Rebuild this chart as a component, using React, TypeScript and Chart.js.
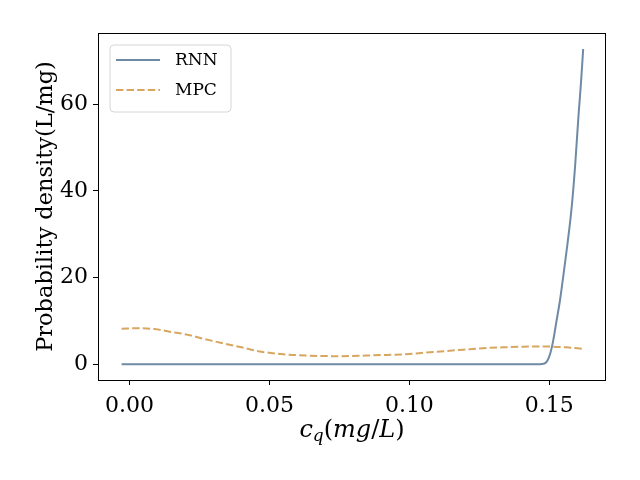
import { useEffect, useRef } from "react";
import { Chart, registerables } from "chart.js";

Chart.register(...registerables);

// Concentration grid (mg/L) and estimated densities (L/mg)
const rnnX = [-0.00282, 0.02, 0.05, 0.08, 0.11, 0.13, 0.14, 0.1455, 0.1468, 0.1478, 0.1485, 0.1493, 0.1503, 0.1514, 0.1526, 0.1538, 0.155, 0.1562, 0.158, 0.1592, 0.1604, 0.1613, 0.1621];
const rnnY = [0, 0, 0, 0, 0, 0, 0, 0, 0.02, 0.08, 0.25, 0.8, 2.4, 5.5, 10.1, 14.7, 20.4, 26.3, 36.3, 45.6, 57.1, 64.8, 72.7];

const mpcX = [-0.00282, 0.0031, 0.009, 0.0144, 0.0216, 0.0257, 0.0329, 0.04, 0.046, 0.0549, 0.0632, 0.0745, 0.0846, 0.0918, 0.0984, 0.1055, 0.1132, 0.1192, 0.1263, 0.1335, 0.1406, 0.1478, 0.1561, 0.1621];
const mpcY = [8.2, 8.3, 8.1, 7.5, 6.7, 6.0, 4.9, 3.9, 3.0, 2.3, 2.0, 1.85, 2.0, 2.15, 2.3, 2.65, 3.05, 3.35, 3.7, 3.9, 4.05, 4.1, 3.9, 3.55];

const xTicks = [0, 0.05, 0.1, 0.15];
const yTicks = [0, 20, 40, 60];

const seriesNames = ["RNN", "MPC"];
const rnnColor = "#6f8aa4";
const mpcColor = "#d9a660";

const SERIF = "'DejaVu Serif', serif";

const framePlugin = {
  id: "frameAndTitles",
  afterDraw(chart: any) {
    const { ctx, chartArea } = chart;
    const { left, right, top, bottom } = chartArea;
    ctx.save();

    // axes frame on all four sides
    ctx.strokeStyle = "#000";
    ctx.lineWidth = 1;
    ctx.strokeRect(Math.round(left) + 0.5, Math.round(top) + 0.5, Math.round(right - left) - 1, Math.round(bottom - top));

    // legend box
    const lx = 110, ly = 45, lw = 121, lh = 67, r = 4;
    ctx.beginPath();
    ctx.moveTo(lx + r, ly);
    ctx.arcTo(lx + lw, ly, lx + lw, ly + lh, r);
    ctx.arcTo(lx + lw, ly + lh, lx, ly + lh, r);
    ctx.arcTo(lx, ly + lh, lx, ly, r);
    ctx.arcTo(lx, ly, lx + lw, ly, r);
    ctx.closePath();
    ctx.fillStyle = "rgba(255,255,255,0.8)";
    ctx.fill();
    ctx.strokeStyle = "#d6d6d6";
    ctx.lineWidth = 1;
    ctx.stroke();

    const rows = [
      { name: seriesNames[0], color: rnnColor, dash: [] as number[], y: 60 },
      { name: seriesNames[1], color: mpcColor, dash: [7.4, 3.2], y: 90 },
    ];
    ctx.font = `17px ${SERIF}`;
    ctx.textBaseline = "middle";
    ctx.textAlign = "left";
    for (const row of rows) {
      ctx.beginPath();
      ctx.setLineDash(row.dash);
      ctx.strokeStyle = row.color;
      ctx.lineWidth = 2;
      ctx.moveTo(116, row.y);
      ctx.lineTo(160, row.y);
      ctx.stroke();
      ctx.setLineDash([]);
      ctx.fillStyle = "#000";
      ctx.fillText(row.name, 175, row.y + 1);
    }

    // x-axis title: c_q(mg/L)
    const base = 24;
    const parts = [
      { t: "c", f: `italic ${base}px ${SERIF}`, dy: 0 },
      { t: "q", f: `italic ${Math.round(base * 0.7)}px ${SERIF}`, dy: 4 },
      { t: "(", f: `${base}px ${SERIF}`, dy: 0 },
      { t: "mg", f: `italic ${base}px ${SERIF}`, dy: 0 },
      { t: "/", f: `${base}px ${SERIF}`, dy: 0 },
      { t: "L", f: `italic ${base}px ${SERIF}`, dy: 0 },
      { t: ")", f: `${base}px ${SERIF}`, dy: 0 },
    ];
    ctx.textBaseline = "alphabetic";
    let total = 0;
    const widths: number[] = [];
    for (const p of parts) {
      ctx.font = p.f;
      const w = ctx.measureText(p.t).width;
      widths.push(w);
      total += w;
    }
    let cx = (left + right) / 2 - total / 2;
    parts.forEach((p, i) => {
      ctx.font = p.f;
      ctx.fillText(p.t, cx, 437 + p.dy);
      cx += widths[i];
    });

    // y-axis title
    ctx.translate(52, (top + bottom) / 2);
    ctx.rotate(-Math.PI / 2);
    ctx.font = `22.5px ${SERIF}`;
    ctx.textAlign = "center";
    ctx.fillText("Probability density(L/mg)", 0, 0);

    ctx.restore();
  },
};

export default function App() {
  const canvasRef = useRef<HTMLCanvasElement | null>(null);

  useEffect(() => {
    document.body.style.margin = "0";
    const canvas = canvasRef.current;
    if (!canvas) return;

    const chart = new Chart(canvas, {
      type: "line",
      data: {
        datasets: [
          {
            label: seriesNames[0],
            data: rnnX.map((x, i) => ({ x, y: rnnY[i] })),
            borderColor: rnnColor,
            borderWidth: 2,
            pointRadius: 0,
            cubicInterpolationMode: "monotone",
            fill: false,
          },
          {
            label: seriesNames[1],
            data: mpcX.map((x, i) => ({ x, y: mpcY[i] })),
            borderColor: mpcColor,
            borderWidth: 2,
            borderDash: [7.4, 3.2],
            pointRadius: 0,
            cubicInterpolationMode: "monotone",
            fill: false,
          },
        ],
      },
      options: {
        animation: false,
        responsive: false,
        devicePixelRatio: 1,
        layout: { padding: { left: 0, right: 34, top: 33, bottom: 0 } },
        plugins: {
          legend: { display: false },
          tooltip: { enabled: false },
        },
        scales: {
          x: {
            type: "linear",
            min: -0.01125,
            max: 0.17025,
            afterBuildTicks: (scale: any) => {
              scale.ticks = xTicks.map((v) => ({ value: v }));
            },
            afterFit: (scale: any) => {
              scale.height = 100;
            },
            grid: {
              display: true,
              drawOnChartArea: false,
              drawTicks: true,
              tickLength: 5,
              tickColor: "#000",
              color: "#000",
            },
            border: { display: false },
            ticks: {
              color: "#000",
              padding: 8,
              maxRotation: 0,
              font: { family: SERIF, size: 22 },
              callback: (v: any) => Number(v).toFixed(2),
            },
          },
          y: {
            type: "linear",
            min: -3.64,
            max: 76.4,
            afterBuildTicks: (scale: any) => {
              scale.ticks = yTicks.map((v) => ({ value: v }));
            },
            afterFit: (scale: any) => {
              scale.width = 98;
            },
            grid: {
              display: true,
              drawOnChartArea: false,
              drawTicks: true,
              tickLength: 5,
              tickColor: "#000",
              color: "#000",
            },
            border: { display: false },
            ticks: {
              color: "#000",
              padding: 5,
              font: { family: SERIF, size: 22 },
              callback: (v: any) => String(v),
            },
          },
        },
      },
      plugins: [framePlugin],
    } as any);

    return () => chart.destroy();
  }, []);

  return (
    <div style={{ position: "absolute", left: 0, top: 0, width: 640, height: 480, background: "#fff" }}>
      <canvas ref={canvasRef} width={640} height={480} style={{ width: 640, height: 480 }} />
    </div>
  );
}
